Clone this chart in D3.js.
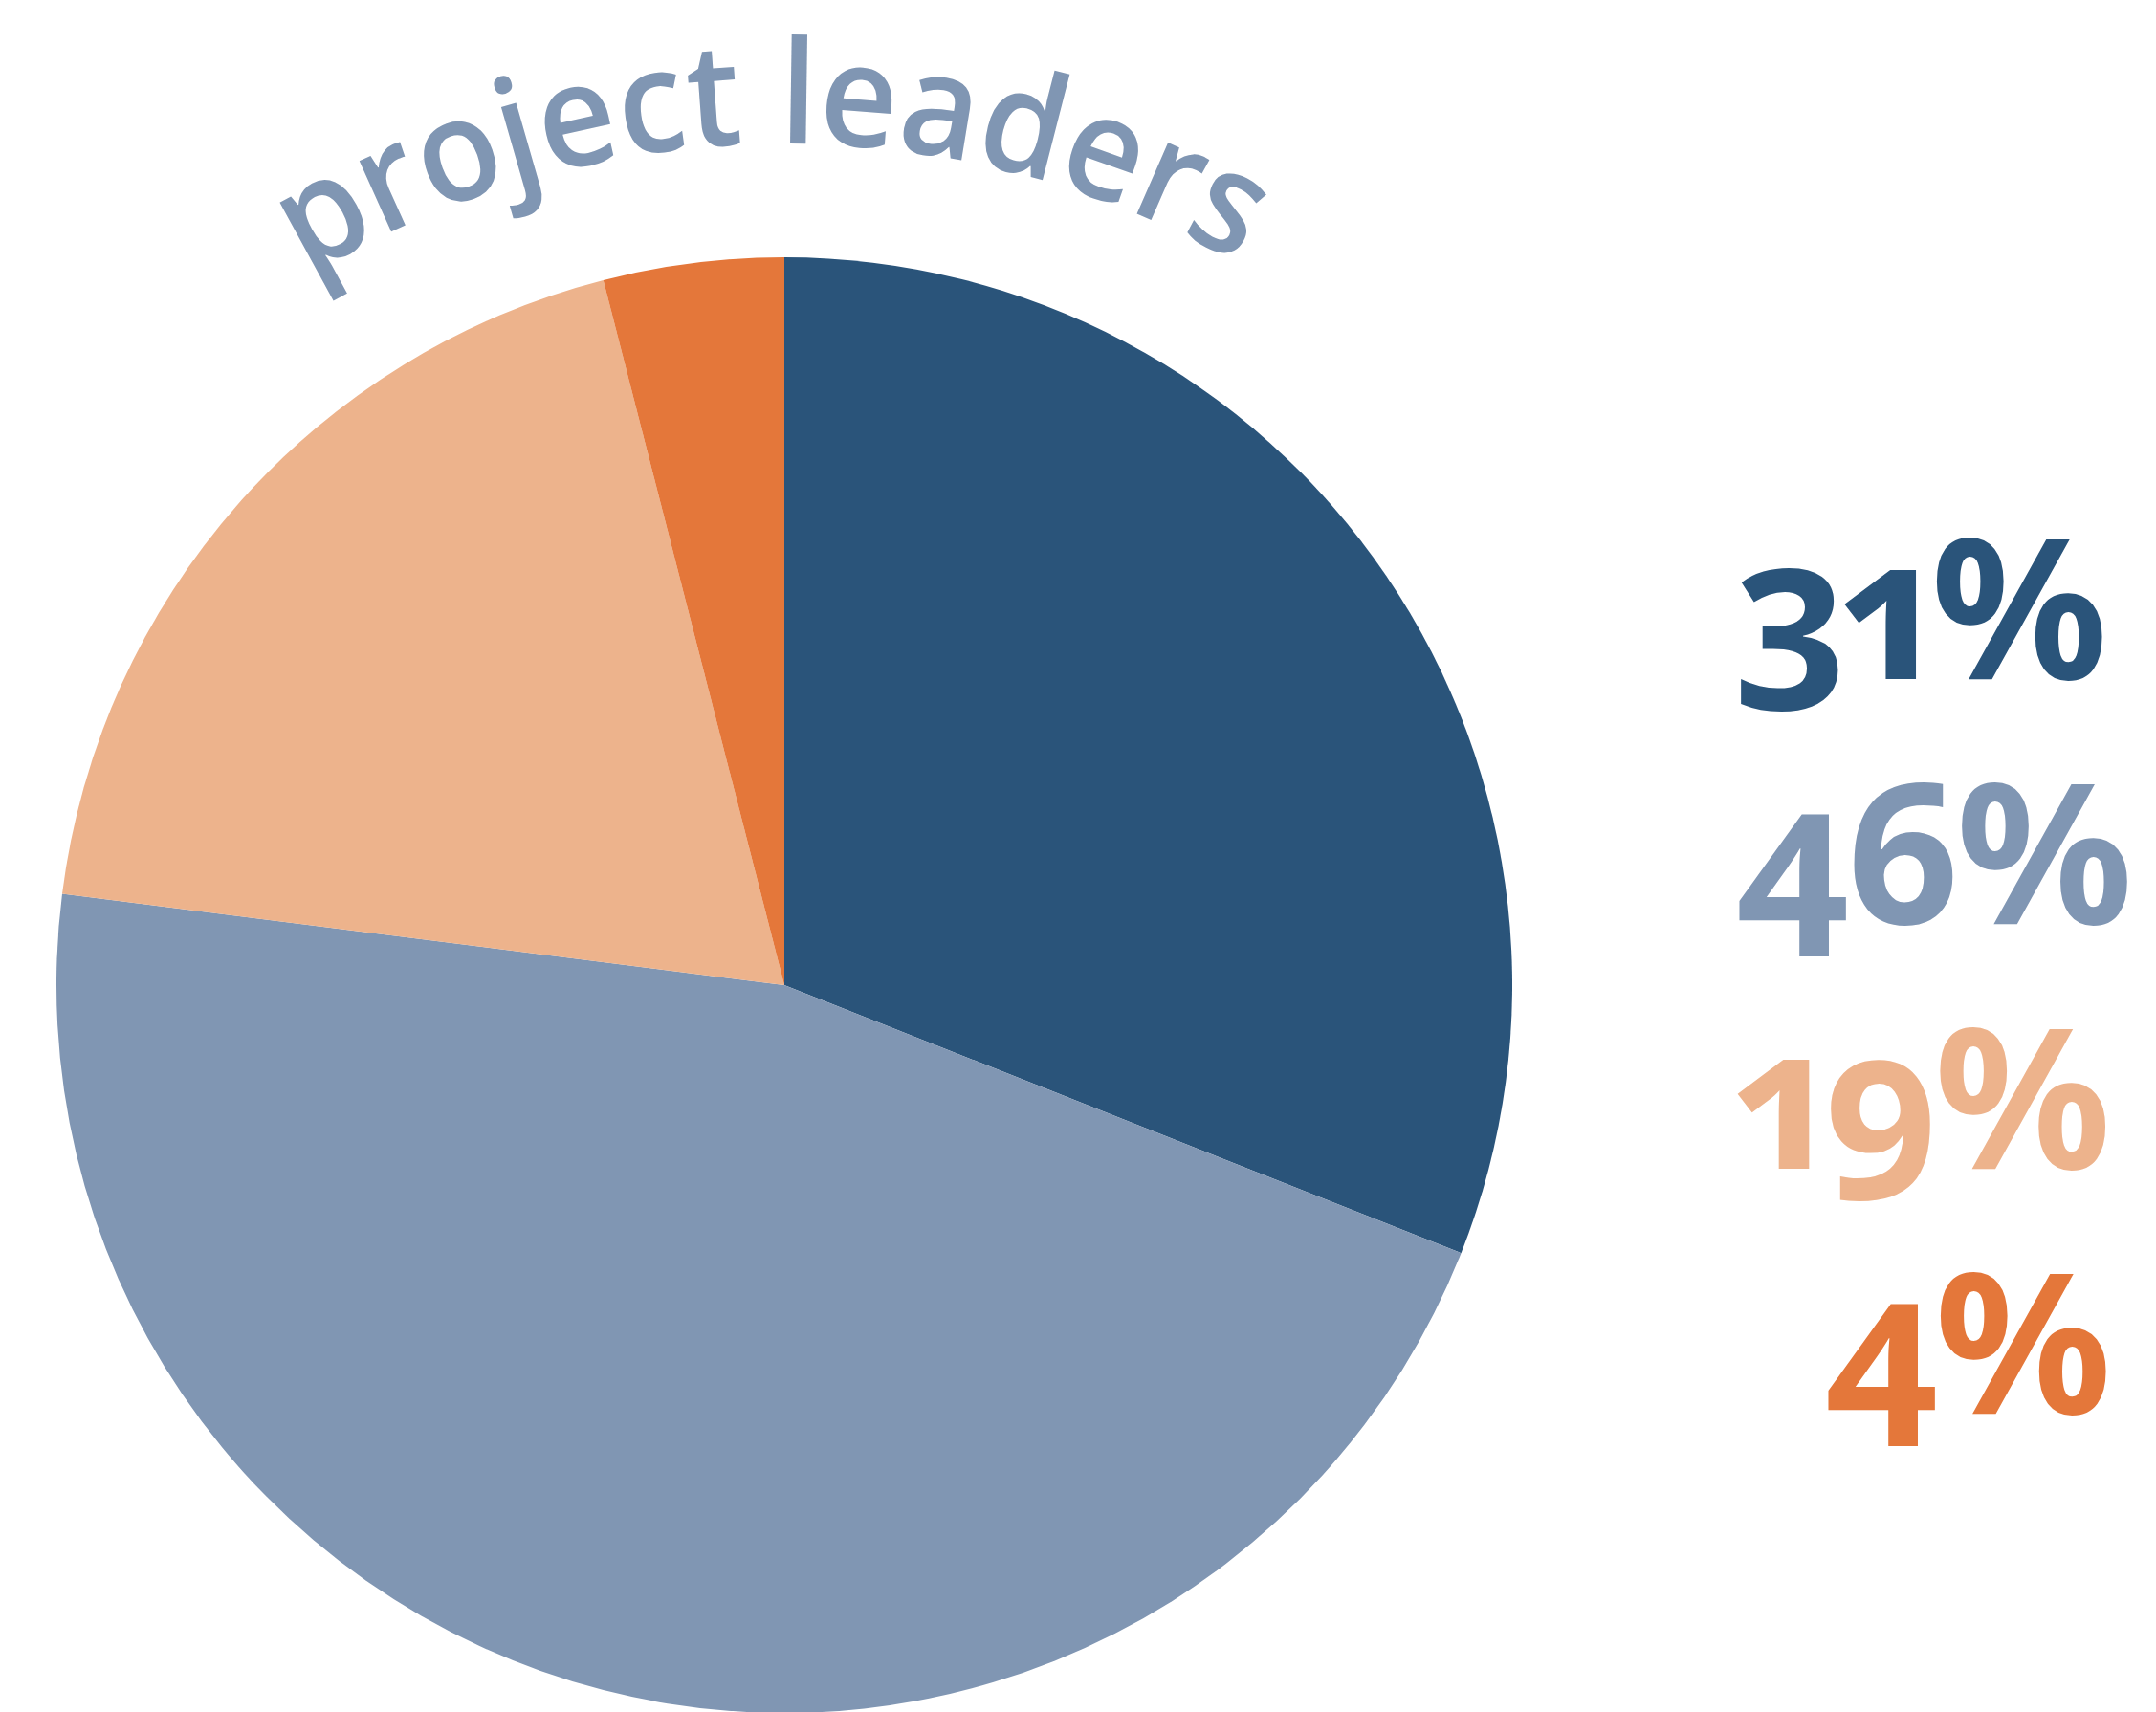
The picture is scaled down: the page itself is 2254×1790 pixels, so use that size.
<!DOCTYPE html>
<html>
<head>
<meta charset="utf-8">
<script src="https://cdn.jsdelivr.net/npm/d3@7"></script>
<style>
  html, body { margin: 0; padding: 0; background: #fff; }
  svg { display: block; }
</style>
</head>
<body>
<script>
// data
var categories = ["a", "b", "c", "d"];
var values = [31, 46, 19, 4];
var labels = ["31%", "46%", "19%", "4%"];
var colors = ["#2a547a", "#8096b3", "#edb38c", "#e4773a"];
var title = "project leaders";

var width = 2254,
    height = 1790,
    cx = 820,
    cy = 1030,
    radius = 761;

var svg = d3.select("body").append("svg")
    .attr("width", width)
    .attr("height", height);

var pie = d3.pie().sort(null).value(function(d) { return d; });
var arc = d3.arc().innerRadius(0).outerRadius(radius);

var g = svg.append("g")
    .attr("transform", "translate(" + cx + "," + cy + ")");

g.selectAll("path.slice")
    .data(pie(values))
    .enter().append("path")
    .attr("class", "slice")
    .attr("d", arc)
    .style("fill", function(d, i) { return colors[i]; });

// curved title
var tr = 960, tcy = 150 + tr;
var span = Math.PI * 0.6;
var p = d3.path();
p.arc(cx, tcy, tr, -Math.PI / 2 - span / 2, -Math.PI / 2 + span / 2);
svg.append("path")
    .attr("id", "titleArc")
    .attr("d", p.toString())
    .style("fill", "none");

svg.append("text")
    .style("font-family", "'Open Sans', sans-serif")
    .style("font-weight", 600)
    .style("font-size", "150px")
    .style("fill", "#8096b3")
  .append("textPath")
    .attr("href", "#titleArc")
    .attr("startOffset", (tr * span / 2 - 14) + "px")
    .attr("text-anchor", "middle")
    .attr("textLength", 1020)
    .attr("lengthAdjust", "spacingAndGlyphs")
    .text(title);

// percent labels
var y = d3.scaleBand().domain(categories).range([454, 1478]);
var lx = 1814;

function styleLabel(sel) {
    sel.style("font-family", "'Noto Sans', sans-serif")
        .style("font-weight", "bold")
        .style("font-size", "205px")
        .style("letter-spacing", "-4px")
        .style("font-variant-numeric", "oldstyle-nums proportional-nums")
        .style("font-feature-settings", "'onum' 1, 'pnum' 1");
}

// width of one digit, used to indent single-digit labels
var probe = svg.append("text").text("1").call(styleLabel);
var digitW = probe.node().getComputedTextLength();
probe.remove();

svg.selectAll("text.pct")
    .data(values)
    .enter().append("text")
    .attr("class", "pct")
    .attr("x", function(d) { return d < 10 ? lx + digitW : lx; })
    .attr("y", function(d, i) { return y(categories[i]) + 256; })
    .call(styleLabel)
    .style("fill", function(d, i) { return colors[i]; })
    .text(function(d, i) { return labels[i]; });
</script>
</body>
</html>
